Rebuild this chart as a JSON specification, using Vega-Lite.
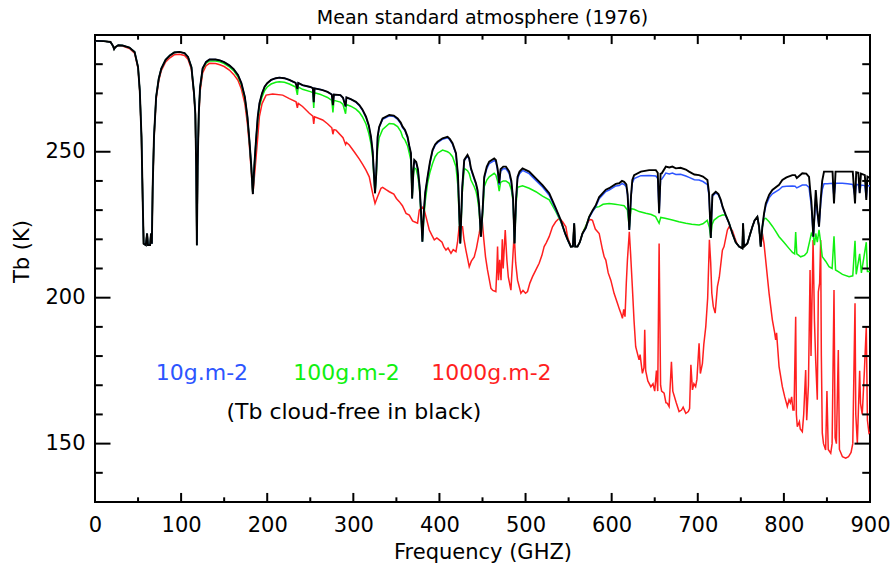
{
"$schema": "https://vega.github.io/schema/vega-lite/v6.json",
"width": 775, "height": 467,
"autosize": {"type": "none"},
"padding": {"left": 95, "top": 35, "right": 22, "bottom": 65},
"background": "white",
"config": {
 "view": {"stroke": "black", "strokeWidth": 2},
 "font": "DejaVu Sans",
 "axis": {"grid": false, "domain": false, "labelFont": "DejaVu Sans", "titleFont": "DejaVu Sans", "labelColor": "black", "titleColor": "black", "titleFontWeight": "normal", "labelFontSize": 21, "titleFontSize": 21, "minExtent": 0}
},
"title": {"text": "Mean standard atmosphere (1976)", "fontSize": 19, "fontWeight": "normal", "font": "DejaVu Sans", "anchor": "middle", "baseline": "bottom", "offset": -13, "color": "black"},
"datasets": {
"xticks": [
{"f":50,"k":"minor"},{"f":100,"k":"major"},{"f":150,"k":"minor"},{"f":200,"k":"major"},{"f":250,"k":"minor"},{"f":300,"k":"major"},{"f":350,"k":"minor"},{"f":400,"k":"major"},{"f":450,"k":"minor"},{"f":500,"k":"major"},{"f":550,"k":"minor"},{"f":600,"k":"major"},{"f":650,"k":"minor"},{"f":700,"k":"major"},{"f":750,"k":"minor"},{"f":800,"k":"major"},{"f":850,"k":"minor"}
],
"yticks": [
{"t":140,"k":"minor"},{"t":150,"k":"major"},{"t":160,"k":"minor"},{"t":170,"k":"minor"},{"t":180,"k":"minor"},{"t":190,"k":"minor"},{"t":200,"k":"major"},{"t":210,"k":"minor"},{"t":220,"k":"minor"},{"t":230,"k":"minor"},{"t":240,"k":"minor"},{"t":250,"k":"major"},{"t":260,"k":"minor"},{"t":270,"k":"minor"},{"t":280,"k":"minor"}
],
"black": [
{"f":0,"t":288},{"f":10,"t":287.9},{"f":18,"t":287.6},{"f":21,"t":286.2},{"f":22.2,"t":285.2},{"f":23.5,"t":285.8},{"f":27,"t":286.5},{"f":32,"t":286.4},{"f":40,"t":285.7},{"f":46,"t":284.2},{"f":50,"t":279},{"f":52,"t":271},{"f":54,"t":255},{"f":55.5,"t":232},{"f":56.5,"t":218.5},{"f":59,"t":218},{"f":60.5,"t":222},{"f":61.5,"t":218},{"f":64,"t":218},{"f":65,"t":222},{"f":66,"t":218.5},{"f":67,"t":238},{"f":68.5,"t":255},{"f":71,"t":268.8},{"f":74,"t":275},{"f":77,"t":278.5},{"f":82,"t":281.5},{"f":87,"t":283},{"f":92,"t":284},{"f":98,"t":284.2},{"f":104,"t":283.8},{"f":108,"t":282.5},{"f":112,"t":279},{"f":115,"t":270},{"f":116.5,"t":263},{"f":117.5,"t":245},{"f":118.3,"t":218},{"f":119.2,"t":245},{"f":120.5,"t":263},{"f":122,"t":272},{"f":125,"t":278.6},{"f":129,"t":280.8},{"f":133,"t":281.6},{"f":140,"t":281.6},{"f":145,"t":281.3},{"f":150,"t":280.7},{"f":156,"t":279.6},{"f":161,"t":278.3},{"f":166,"t":276.3},{"f":170,"t":273.5},{"f":174,"t":268.8},{"f":177,"t":262},{"f":179.3,"t":254},{"f":181.5,"t":245},{"f":183.3,"t":235.5},{"f":185,"t":245},{"f":187,"t":254},{"f":189,"t":262},{"f":191,"t":266.6},{"f":194,"t":270},{"f":197,"t":272.3},{"f":200,"t":273.5},{"f":204.5,"t":274.6},{"f":210,"t":275.2},{"f":214,"t":275.4},{"f":220,"t":275.2},{"f":225.7,"t":274.6},{"f":230,"t":274},{"f":233,"t":273.6},{"f":235,"t":271.5},{"f":236,"t":273.6},{"f":241,"t":272.8},{"f":250,"t":272.2},{"f":253,"t":271.8},{"f":254,"t":267},{"f":255,"t":271.7},{"f":262,"t":271.3},{"f":264.4,"t":271.1},{"f":270,"t":270.5},{"f":275,"t":269.6},{"f":276.3,"t":266},{"f":277.5,"t":269.6},{"f":285,"t":269.4},{"f":288,"t":268.5},{"f":291,"t":265.5},{"f":292,"t":268.6},{"f":297,"t":268},{"f":303,"t":267.1},{"f":307,"t":266},{"f":310.5,"t":264.5},{"f":314.7,"t":262},{"f":318,"t":259},{"f":320.5,"t":255.1},{"f":322.5,"t":250},{"f":324,"t":242},{"f":325.2,"t":235.8},{"f":326.5,"t":242},{"f":328.2,"t":255.1},{"f":330,"t":258.5},{"f":334,"t":261.4},{"f":341.8,"t":262.6},{"f":347,"t":262.4},{"f":351.4,"t":261.4},{"f":355,"t":260},{"f":357.2,"t":258.6},{"f":360,"t":257.5},{"f":363,"t":255.1},{"f":365,"t":252},{"f":366.9,"t":249.5},{"f":368.3,"t":234},{"f":369.8,"t":244},{"f":370.8,"t":247.2},{"f":373,"t":246.5},{"f":375,"t":244},{"f":377,"t":238},{"f":378.5,"t":230},{"f":380.2,"t":219.2},{"f":382,"t":230},{"f":383.5,"t":236},{"f":386.2,"t":241.4},{"f":389,"t":246.5},{"f":392,"t":250.6},{"f":395,"t":252.5},{"f":397.8,"t":253.4},{"f":403.6,"t":254.6},{"f":409.4,"t":255.1},{"f":412,"t":254.4},{"f":415.2,"t":252.9},{"f":419.2,"t":249.5},{"f":421.5,"t":242},{"f":424.2,"t":218.6},{"f":426.5,"t":238},{"f":428.8,"t":247.2},{"f":432.6,"t":248.9},{"f":434.6,"t":247.7},{"f":436.6,"t":244.3},{"f":440.4,"t":240.9},{"f":442.4,"t":239.2},{"f":444.2,"t":236.9},{"f":446,"t":232},{"f":448.2,"t":220.9},{"f":450.5,"t":232},{"f":452,"t":241.4},{"f":455,"t":244.9},{"f":457.8,"t":246.6},{"f":463.6,"t":247.7},{"f":465.5,"t":247.2},{"f":467.5,"t":244.3},{"f":469.4,"t":239.2},{"f":471,"t":244},{"f":474.1,"t":244.9},{"f":477.2,"t":244.9},{"f":481,"t":243.2},{"f":483.5,"t":240},{"f":485.5,"t":234},{"f":487.2,"t":218.6},{"f":489,"t":234},{"f":490.7,"t":241.4},{"f":493,"t":243.2},{"f":496.5,"t":244.3},{"f":504.2,"t":243.2},{"f":512,"t":240.9},{"f":519.7,"t":238.6},{"f":527.5,"t":235.8},{"f":535.2,"t":230.6},{"f":541,"t":226.5},{"f":546,"t":222},{"f":549,"t":219.8},{"f":552.6,"t":217.5},{"f":555,"t":217.6},{"f":556.5,"t":225.5},{"f":557.6,"t":217.5},{"f":560.3,"t":217.5},{"f":563,"t":219},{"f":566.1,"t":222},{"f":570,"t":224},{"f":573.9,"t":227.7},{"f":578,"t":230},{"f":581.6,"t":231.7},{"f":585.5,"t":234.5},{"f":593.2,"t":237},{"f":597.1,"t":237.5},{"f":604.8,"t":239},{"f":608.7,"t":239.2},{"f":612,"t":240},{"f":614.5,"t":239.7},{"f":617,"t":238.8},{"f":618.5,"t":235.5},{"f":620.5,"t":223.2},{"f":622.5,"t":235},{"f":624,"t":240.3},{"f":626.1,"t":242},{"f":633.9,"t":243.2},{"f":643.5,"t":243.7},{"f":651.3,"t":243.7},{"f":653.5,"t":242.8},{"f":655.1,"t":228.9},{"f":656.8,"t":242.5},{"f":658.2,"t":242.6},{"f":662.9,"t":244.9},{"f":667,"t":244.6},{"f":670.5,"t":244.9},{"f":674.5,"t":244.3},{"f":680,"t":244.5},{"f":686.1,"t":243.9},{"f":689.9,"t":243.2},{"f":696,"t":242.2},{"f":701.5,"t":242},{"f":706,"t":241.5},{"f":711.2,"t":240.3},{"f":713,"t":236},{"f":714.3,"t":227},{"f":715.1,"t":220.5},{"f":716,"t":228},{"f":717,"t":235.2},{"f":720.9,"t":236.3},{"f":724,"t":235.5},{"f":726.7,"t":233.5},{"f":729,"t":231},{"f":732.5,"t":228.3},{"f":736.4,"t":225.5},{"f":740.2,"t":222},{"f":744,"t":219},{"f":748,"t":217.5},{"f":751.8,"t":216.9},{"f":752.6,"t":225.5},{"f":753.7,"t":217.5},{"f":757.6,"t":218.6},{"f":760.5,"t":221.5},{"f":763.4,"t":224.3},{"f":766,"t":226.5},{"f":769.2,"t":227.7},{"f":771.2,"t":224.3},{"f":773.1,"t":217.5},{"f":775,"t":224.3},{"f":777,"t":229},{"f":779,"t":232.3},{"f":782.8,"t":235.2},{"f":786.6,"t":236.9},{"f":794.4,"t":238.7},{"f":798.2,"t":240.3},{"f":803,"t":241.2},{"f":809.8,"t":242},{"f":813,"t":242},{"f":815,"t":241},{"f":821.4,"t":242.6},{"f":826,"t":242.5},{"f":829.2,"t":241.4},{"f":830.5,"t":237},{"f":831.9,"t":233},{"f":834.2,"t":220.9},{"f":835.5,"t":228},{"f":837,"t":236.9},{"f":838.8,"t":230},{"f":840.8,"t":224.3},{"f":842.7,"t":233.5},{"f":844.5,"t":240},{"f":846.6,"t":243.2},{"f":850.4,"t":243.2},{"f":856.5,"t":243.2},{"f":858.2,"t":232.3},{"f":860,"t":243.2},{"f":867.8,"t":243.2},{"f":874,"t":243.2},{"f":880,"t":243.2},{"f":882.6,"t":232.3},{"f":884,"t":243},{"f":886.5,"t":242.8},{"f":888,"t":235.8},{"f":889.5,"t":242.5},{"f":894,"t":242},{"f":895.7,"t":233.5},{"f":897,"t":241.5},{"f":900,"t":241}
],
"blue": [
{"f":0,"t":288},{"f":10,"t":287.9},{"f":18,"t":287.6},{"f":21,"t":286.2},{"f":22.2,"t":285.2},{"f":23.5,"t":285.8},{"f":27,"t":286.5},{"f":32,"t":286.4},{"f":40,"t":285.7},{"f":46,"t":284.2},{"f":50,"t":279},{"f":52,"t":271},{"f":54,"t":255},{"f":55.5,"t":232},{"f":56.5,"t":218.5},{"f":59,"t":218},{"f":60.5,"t":222},{"f":61.5,"t":218},{"f":64,"t":218},{"f":65,"t":222},{"f":66,"t":218.5},{"f":67,"t":238},{"f":68.5,"t":255},{"f":71,"t":268.8},{"f":74,"t":275},{"f":77,"t":278.5},{"f":82,"t":281.5},{"f":87,"t":283},{"f":92,"t":284},{"f":98,"t":284.2},{"f":104,"t":283.8},{"f":108,"t":282.5},{"f":112,"t":279},{"f":115,"t":270},{"f":116.5,"t":263},{"f":117.5,"t":245},{"f":118.3,"t":218},{"f":119.2,"t":245},{"f":120.5,"t":263},{"f":122,"t":272},{"f":125,"t":278.6},{"f":129,"t":280.8},{"f":133,"t":281.6},{"f":140,"t":281.6},{"f":145,"t":281.3},{"f":150,"t":280.7},{"f":156,"t":279.6},{"f":161,"t":278.3},{"f":166,"t":276.3},{"f":170,"t":273.5},{"f":174,"t":268.8},{"f":177,"t":262},{"f":179.3,"t":254},{"f":181.5,"t":245},{"f":183.3,"t":235.5},{"f":185,"t":245},{"f":187,"t":254},{"f":189,"t":262},{"f":191,"t":266.6},{"f":194,"t":270},{"f":197,"t":272.3},{"f":200,"t":273.5},{"f":204.5,"t":274.6},{"f":210,"t":275.2},{"f":214,"t":275.4},{"f":220,"t":275.2},{"f":225.7,"t":274.6},{"f":230,"t":274},{"f":233,"t":273.6},{"f":235,"t":271.5},{"f":236,"t":273.6},{"f":241,"t":272.8},{"f":250,"t":272.2},{"f":253,"t":271.8},{"f":254,"t":267},{"f":255,"t":271.7},{"f":262,"t":271.3},{"f":264.4,"t":271.1},{"f":270,"t":270.5},{"f":275,"t":269.6},{"f":276.3,"t":266},{"f":277.5,"t":269.6},{"f":285,"t":269.4},{"f":288,"t":268.5},{"f":291,"t":265.5},{"f":292,"t":268.6},{"f":297,"t":268},{"f":303,"t":267},{"f":307,"t":265.8},{"f":310.5,"t":264.3},{"f":314.7,"t":261.8},{"f":318,"t":258.8},{"f":320.5,"t":254.9},{"f":322.5,"t":249.8},{"f":324,"t":241.9},{"f":325.2,"t":235.8},{"f":326.5,"t":241.9},{"f":328.2,"t":254.9},{"f":330,"t":258.3},{"f":334,"t":261.1},{"f":341.8,"t":262.3},{"f":347,"t":262.1},{"f":351.4,"t":261.1},{"f":355,"t":259.7},{"f":357.2,"t":258.3},{"f":360,"t":257.2},{"f":363,"t":254.8},{"f":365,"t":251.7},{"f":366.9,"t":249.2},{"f":368.3,"t":234},{"f":369.8,"t":243.8},{"f":370.8,"t":246.9},{"f":373,"t":246.2},{"f":375,"t":243.7},{"f":377,"t":237.8},{"f":378.5,"t":229.9},{"f":380.2,"t":219.2},{"f":382,"t":229.9},{"f":383.5,"t":235.8},{"f":386.2,"t":241.1},{"f":389,"t":246.2},{"f":392,"t":250.3},{"f":395,"t":252.2},{"f":397.8,"t":253.1},{"f":403.6,"t":254.3},{"f":409.4,"t":254.8},{"f":412,"t":254.1},{"f":415.2,"t":252.6},{"f":419.2,"t":249.2},{"f":421.5,"t":241.8},{"f":424.2,"t":218.6},{"f":426.5,"t":237.8},{"f":428.8,"t":246.9},{"f":432.6,"t":248.6},{"f":434.6,"t":247.4},{"f":436.6,"t":244},{"f":440.4,"t":240.6},{"f":442.4,"t":238.9},{"f":444.2,"t":236.6},{"f":446,"t":231.8},{"f":448.2,"t":220.9},{"f":450.5,"t":231.6},{"f":452,"t":240.8},{"f":455,"t":244.2},{"f":457.8,"t":245.9},{"f":463.6,"t":247},{"f":465.5,"t":246.5},{"f":467.5,"t":243.6},{"f":469.4,"t":238.6},{"f":471,"t":243.3},{"f":474.1,"t":244.2},{"f":477.2,"t":244.2},{"f":481,"t":242.5},{"f":483.5,"t":239.3},{"f":485.5,"t":233.5},{"f":487.2,"t":218.6},{"f":489,"t":233.5},{"f":490.7,"t":240.7},{"f":493,"t":242.5},{"f":496.5,"t":243.6},{"f":504.2,"t":242.5},{"f":512,"t":240.2},{"f":519.7,"t":237.9},{"f":527.5,"t":235.1},{"f":535.2,"t":230.1},{"f":541,"t":226.2},{"f":546,"t":221.8},{"f":549,"t":219.7},{"f":552.6,"t":217.5},{"f":555,"t":217.6},{"f":556.5,"t":225.5},{"f":557.6,"t":217.5},{"f":560.3,"t":217.5},{"f":563,"t":219},{"f":566.1,"t":221.9},{"f":570,"t":223.8},{"f":573.9,"t":227.4},{"f":578,"t":229.6},{"f":581.6,"t":231.2},{"f":585.5,"t":233.9},{"f":593.2,"t":236.4},{"f":597.1,"t":236.9},{"f":604.8,"t":238.3},{"f":608.7,"t":238.4},{"f":612,"t":239.1},{"f":614.5,"t":238.8},{"f":617,"t":238},{"f":618.5,"t":235},{"f":620.5,"t":223.2},{"f":622.5,"t":234.5},{"f":624,"t":239.3},{"f":626.1,"t":240.8},{"f":633.9,"t":241.8},{"f":643.5,"t":241.9},{"f":651.3,"t":241.7},{"f":653.5,"t":240.8},{"f":655.1,"t":228.9},{"f":656.8,"t":240.5},{"f":658.2,"t":240.6},{"f":662.9,"t":242.7},{"f":667,"t":242.4},{"f":670.5,"t":242.7},{"f":674.5,"t":242.2},{"f":680,"t":242.3},{"f":686.1,"t":241.7},{"f":689.9,"t":241.2},{"f":696,"t":240.4},{"f":701.5,"t":240.3},{"f":706,"t":239.8},{"f":711.2,"t":238.7},{"f":713,"t":235},{"f":714.3,"t":226.7},{"f":715.1,"t":220.5},{"f":716,"t":227.7},{"f":717,"t":234.8},{"f":720.9,"t":235.9},{"f":724,"t":235.2},{"f":726.7,"t":233.2},{"f":729,"t":230.8},{"f":732.5,"t":228.1},{"f":736.4,"t":225.4},{"f":740.2,"t":222},{"f":744,"t":219},{"f":748,"t":217.5},{"f":751.8,"t":216.9},{"f":752.6,"t":225.5},{"f":753.7,"t":217.5},{"f":757.6,"t":218.6},{"f":760.5,"t":221.5},{"f":763.4,"t":224.3},{"f":766,"t":226.5},{"f":769.2,"t":227.7},{"f":771.2,"t":224.3},{"f":773.1,"t":217.5},{"f":775,"t":224.3},{"f":777,"t":228.5},{"f":779,"t":231.5},{"f":782.8,"t":234.2},{"f":786.6,"t":235.6},{"f":794.4,"t":237},{"f":798.2,"t":238},{"f":803,"t":238.2},{"f":809.8,"t":238.3},{"f":813,"t":238.2},{"f":815,"t":237.6},{"f":821.4,"t":238.6},{"f":826,"t":238.6},{"f":829.2,"t":237.8},{"f":830.5,"t":234.5},{"f":831.9,"t":231.5},{"f":834.2,"t":220.9},{"f":835.5,"t":227},{"f":837,"t":234.5},{"f":838.8,"t":229},{"f":840.8,"t":224.3},{"f":842.7,"t":232},{"f":844.5,"t":237},{"f":846.6,"t":239},{"f":850.4,"t":239},{"f":856.5,"t":239.2},{"f":858.2,"t":234.5},{"f":860,"t":239.2},{"f":867.8,"t":239.2},{"f":874,"t":239},{"f":880,"t":238.8},{"f":882.6,"t":234.5},{"f":884,"t":238.8},{"f":886.5,"t":238.7},{"f":888,"t":236},{"f":889.5,"t":238.6},{"f":894,"t":238.4},{"f":895.7,"t":234.3},{"f":897,"t":238.4},{"f":900,"t":238.3}
],
"green": [
{"f":0,"t":288},{"f":10,"t":287.9},{"f":18,"t":287.6},{"f":21,"t":286.2},{"f":22.2,"t":285.2},{"f":23.5,"t":285.8},{"f":27,"t":286.5},{"f":32,"t":286.4},{"f":40,"t":285.7},{"f":46,"t":284.2},{"f":50,"t":279},{"f":52,"t":271},{"f":54,"t":255},{"f":55.5,"t":232},{"f":56.5,"t":218.5},{"f":59,"t":218},{"f":60.5,"t":222},{"f":61.5,"t":218},{"f":64,"t":218},{"f":65,"t":222},{"f":66,"t":218.5},{"f":67,"t":238},{"f":68.5,"t":255},{"f":71,"t":268.8},{"f":74,"t":275},{"f":77,"t":278.5},{"f":82,"t":281.5},{"f":87,"t":283},{"f":92,"t":284},{"f":98,"t":284.2},{"f":104,"t":283.8},{"f":108,"t":282.5},{"f":112,"t":279},{"f":115,"t":270},{"f":116.5,"t":263},{"f":117.5,"t":245},{"f":118.3,"t":218},{"f":119.2,"t":245},{"f":120.5,"t":263},{"f":122,"t":271.8},{"f":125,"t":278.3},{"f":129,"t":280.4},{"f":133,"t":281.1},{"f":140,"t":281.1},{"f":145,"t":280.8},{"f":150,"t":280.2},{"f":156,"t":279.1},{"f":161,"t":277.8},{"f":166,"t":275.7},{"f":170,"t":273},{"f":174,"t":268.3},{"f":177,"t":261.6},{"f":179.3,"t":253.7},{"f":181.5,"t":244.8},{"f":183.3,"t":235.5},{"f":185,"t":245},{"f":187,"t":253.5},{"f":189,"t":261},{"f":191,"t":265.5},{"f":194,"t":268.8},{"f":197,"t":271},{"f":200,"t":272.2},{"f":204.5,"t":273.2},{"f":210,"t":273.8},{"f":214,"t":274},{"f":220,"t":273.8},{"f":225.7,"t":273.2},{"f":230,"t":272.6},{"f":233,"t":272.2},{"f":235,"t":269.5},{"f":236,"t":272.2},{"f":241,"t":271.4},{"f":250,"t":270.6},{"f":253,"t":270.3},{"f":254,"t":265},{"f":255,"t":270.2},{"f":262,"t":269.6},{"f":264.4,"t":269.3},{"f":270,"t":268.6},{"f":275,"t":267.6},{"f":276.3,"t":263.5},{"f":277.5,"t":267.6},{"f":285,"t":267},{"f":288,"t":266.2},{"f":291,"t":263},{"f":292,"t":266.2},{"f":297,"t":265.6},{"f":303,"t":264.6},{"f":307,"t":263.5},{"f":310.5,"t":262},{"f":314.7,"t":259.5},{"f":318,"t":256.2},{"f":320.5,"t":252.8},{"f":322.5,"t":248},{"f":324,"t":241},{"f":325.2,"t":235.8},{"f":326.5,"t":241},{"f":328.2,"t":251},{"f":330,"t":254.8},{"f":334,"t":257.6},{"f":341.8,"t":259.7},{"f":347,"t":259.5},{"f":351.4,"t":258.6},{"f":355,"t":257},{"f":357.2,"t":255.1},{"f":360,"t":254},{"f":363,"t":252},{"f":365,"t":249.5},{"f":366.9,"t":247},{"f":368.3,"t":234},{"f":369.8,"t":242},{"f":370.8,"t":244.5},{"f":373,"t":244},{"f":375,"t":241.5},{"f":377,"t":236.5},{"f":378.5,"t":229},{"f":380.2,"t":219.2},{"f":382,"t":228},{"f":383.5,"t":233},{"f":386.2,"t":239.2},{"f":389,"t":243},{"f":392,"t":246},{"f":395,"t":248.3},{"f":397.8,"t":249.5},{"f":403.6,"t":250.6},{"f":409.4,"t":250},{"f":412,"t":249.5},{"f":415.2,"t":248.3},{"f":419.2,"t":244.9},{"f":421.5,"t":238},{"f":424.2,"t":218.6},{"f":426.5,"t":236},{"f":428.8,"t":244.3},{"f":432.6,"t":243.5},{"f":434.6,"t":242.5},{"f":436.6,"t":240.3},{"f":440.4,"t":238},{"f":442.4,"t":236.5},{"f":444.2,"t":234},{"f":446,"t":230},{"f":448.2,"t":220.9},{"f":450.5,"t":230},{"f":452,"t":238},{"f":455,"t":240.3},{"f":457.8,"t":241.4},{"f":463.6,"t":242.6},{"f":465.5,"t":242},{"f":467.5,"t":240},{"f":469.4,"t":236.5},{"f":471,"t":239.5},{"f":474.1,"t":240},{"f":477.2,"t":240},{"f":481,"t":239.2},{"f":483.5,"t":237},{"f":485.5,"t":233},{"f":487.2,"t":218.6},{"f":489,"t":232},{"f":490.7,"t":237.8},{"f":496.5,"t":238.3},{"f":504.2,"t":237.5},{"f":512,"t":236.3},{"f":519.7,"t":234.8},{"f":527.5,"t":233.5},{"f":535.2,"t":229.5},{"f":541,"t":226},{"f":546,"t":222},{"f":549,"t":219.8},{"f":552.6,"t":217.5},{"f":555,"t":217.6},{"f":556.5,"t":225.5},{"f":557.6,"t":217.5},{"f":560.3,"t":217.5},{"f":563,"t":219},{"f":566.1,"t":222},{"f":570,"t":224.5},{"f":573.9,"t":227.7},{"f":578,"t":229.8},{"f":581.6,"t":231},{"f":585.5,"t":231.2},{"f":590,"t":232},{"f":597.1,"t":232.3},{"f":604,"t":232},{"f":608.7,"t":231.8},{"f":614.5,"t":231.5},{"f":618.3,"t":230},{"f":620.5,"t":224},{"f":622.5,"t":230.5},{"f":626,"t":230.3},{"f":632,"t":229.5},{"f":639.6,"t":228.9},{"f":646,"t":228.5},{"f":651,"t":227.8},{"f":655.1,"t":225.5},{"f":657,"t":227.5},{"f":662,"t":227.2},{"f":670.5,"t":226.6},{"f":678,"t":226},{"f":686.1,"t":225.5},{"f":693,"t":225.2},{"f":701.5,"t":224.9},{"f":706,"t":225.3},{"f":711,"t":226.5},{"f":713.5,"t":224},{"f":715.1,"t":220.5},{"f":716.5,"t":225},{"f":718.9,"t":226.6},{"f":724,"t":227.8},{"f":728.6,"t":228.3},{"f":732.5,"t":228.3},{"f":736.4,"t":225.5},{"f":740.2,"t":222},{"f":744,"t":219},{"f":748,"t":217.5},{"f":751.8,"t":216.9},{"f":752.6,"t":225.5},{"f":753.7,"t":217.5},{"f":757.6,"t":218.6},{"f":760.5,"t":221.5},{"f":763.4,"t":224.3},{"f":766,"t":226.5},{"f":769.2,"t":227.7},{"f":771.2,"t":224.3},{"f":773.1,"t":217.5},{"f":775,"t":224.3},{"f":777,"t":227},{"f":779,"t":227.2},{"f":782.8,"t":226},{"f":786.6,"t":224.5},{"f":790,"t":223},{"f":794.4,"t":220.9},{"f":800,"t":219},{"f":805.9,"t":216.9},{"f":810,"t":215.5},{"f":812.5,"t":215},{"f":813.7,"t":222.5},{"f":815,"t":215},{"f":819.5,"t":214},{"f":824,"t":214.5},{"f":827,"t":215.5},{"f":830.4,"t":220},{"f":831.9,"t":222},{"f":834.2,"t":220.9},{"f":835.5,"t":218},{"f":837,"t":222},{"f":838.8,"t":219},{"f":840.8,"t":223.2},{"f":842.7,"t":219},{"f":844.6,"t":214},{"f":848.5,"t":212.5},{"f":852.4,"t":210.6},{"f":856,"t":210},{"f":858.2,"t":221},{"f":860,"t":209.5},{"f":863.2,"t":208.9},{"f":868,"t":208},{"f":875.7,"t":207.2},{"f":880,"t":207.5},{"f":882.6,"t":219.5},{"f":884,"t":208},{"f":888,"t":215},{"f":890,"t":208.5},{"f":895.7,"t":219},{"f":897,"t":209},{"f":900,"t":209}
],
"red": [
{"f":0,"t":288},{"f":10,"t":287.9},{"f":18,"t":287.6},{"f":21,"t":286.2},{"f":22.2,"t":285.2},{"f":23.5,"t":285.8},{"f":27,"t":286.4},{"f":32,"t":286.2},{"f":40,"t":285.4},{"f":46,"t":283.8},{"f":50,"t":278.5},{"f":52,"t":270.5},{"f":54,"t":254.5},{"f":55.5,"t":232},{"f":56.5,"t":218.5},{"f":59,"t":218},{"f":60.5,"t":222},{"f":61.5,"t":218},{"f":64,"t":218},{"f":65,"t":222},{"f":66,"t":218.5},{"f":67,"t":237.5},{"f":68.5,"t":254.5},{"f":71,"t":268},{"f":74,"t":274.3},{"f":77,"t":277.8},{"f":82,"t":280.8},{"f":87,"t":282.2},{"f":92,"t":283.2},{"f":98,"t":283.4},{"f":104,"t":283},{"f":108,"t":281.7},{"f":112,"t":278.3},{"f":115,"t":269.5},{"f":116.5,"t":262.5},{"f":117.5,"t":245},{"f":118.3,"t":218},{"f":119.2,"t":245},{"f":120.5,"t":262},{"f":122,"t":270.5},{"f":125,"t":277},{"f":129,"t":279.5},{"f":133,"t":280.3},{"f":140,"t":280.2},{"f":145,"t":279.8},{"f":150,"t":279.2},{"f":156,"t":278},{"f":161,"t":276.5},{"f":166,"t":274.5},{"f":170,"t":271.5},{"f":174,"t":266.5},{"f":177,"t":259.5},{"f":179.3,"t":252},{"f":181.5,"t":243},{"f":183.3,"t":235.5},{"f":185,"t":241},{"f":187,"t":248},{"f":189,"t":255},{"f":190.9,"t":262},{"f":194,"t":266.5},{"f":198.7,"t":269.4},{"f":206.3,"t":269.8},{"f":218,"t":269.4},{"f":225.7,"t":268.2},{"f":233.5,"t":267.1},{"f":235,"t":265},{"f":236,"t":266.6},{"f":241,"t":265.5},{"f":248.9,"t":263.2},{"f":253,"t":262.2},{"f":254,"t":259.5},{"f":255,"t":262},{"f":264.4,"t":260.9},{"f":270,"t":259.6},{"f":275,"t":258.2},{"f":276.3,"t":256},{"f":277.5,"t":257.6},{"f":279.9,"t":257.4},{"f":288,"t":254.8},{"f":291,"t":252.5},{"f":292,"t":253.2},{"f":295.3,"t":252.3},{"f":301,"t":250},{"f":307,"t":247.5},{"f":311,"t":245.6},{"f":314.7,"t":243.7},{"f":318.5,"t":241.4},{"f":320.5,"t":238.5},{"f":323,"t":235},{"f":325.2,"t":232.3},{"f":328,"t":234.5},{"f":332.1,"t":237.5},{"f":334,"t":237.8},{"f":338,"t":237},{"f":341.8,"t":236.3},{"f":347,"t":235.5},{"f":350,"t":234},{"f":353.4,"t":232.9},{"f":357,"t":231.5},{"f":361.2,"t":228.9},{"f":365,"t":228.3},{"f":368.8,"t":226.3},{"f":370.8,"t":226},{"f":374.6,"t":225.5},{"f":376.6,"t":230},{"f":380,"t":231},{"f":382.4,"t":230},{"f":385,"t":227},{"f":388.2,"t":223.2},{"f":391,"t":221.5},{"f":394,"t":219.8},{"f":397,"t":220.5},{"f":399.8,"t":219.8},{"f":403,"t":219},{"f":405,"t":217.5},{"f":407.6,"t":216.3},{"f":410,"t":217},{"f":413.4,"t":215.2},{"f":416,"t":216.5},{"f":419.2,"t":215.8},{"f":421,"t":219},{"f":422.9,"t":224.3},{"f":426.8,"t":224.3},{"f":428.5,"t":220},{"f":430.7,"t":216.3},{"f":434.6,"t":210.6},{"f":437,"t":212.5},{"f":440.4,"t":214},{"f":443,"t":217},{"f":446.2,"t":222},{"f":449.3,"t":227.7},{"f":451.5,"t":220},{"f":453.5,"t":214},{"f":455.8,"t":209.5},{"f":459.8,"t":203.2},{"f":462,"t":202.5},{"f":465.5,"t":202.1},{"f":466.7,"t":210},{"f":467.5,"t":217.5},{"f":468.5,"t":206},{"f":470,"t":213},{"f":471.5,"t":206},{"f":473,"t":220},{"f":474,"t":210},{"f":476.4,"t":223.2},{"f":478.3,"t":213},{"f":480,"t":207},{"f":483,"t":202.6},{"f":486.8,"t":222},{"f":488.5,"t":212},{"f":490.7,"t":206},{"f":494.6,"t":201.5},{"f":497,"t":202.5},{"f":500,"t":201.5},{"f":502.3,"t":202.1},{"f":505,"t":205},{"f":508.1,"t":207.2},{"f":512,"t":209.5},{"f":515.8,"t":211.8},{"f":519,"t":214.5},{"f":521.6,"t":217.5},{"f":524,"t":218.8},{"f":527.4,"t":220.9},{"f":531.3,"t":224.3},{"f":535,"t":226},{"f":539.1,"t":227.2},{"f":543,"t":226},{"f":546.8,"t":224.3},{"f":549,"t":220.5},{"f":552.6,"t":217.5},{"f":555,"t":217.6},{"f":556.5,"t":225.5},{"f":557.6,"t":217.5},{"f":560.3,"t":217.5},{"f":563,"t":219},{"f":566.1,"t":222},{"f":570,"t":224.5},{"f":573.9,"t":226.6},{"f":575.8,"t":226.8},{"f":577.7,"t":226.5},{"f":581,"t":223.5},{"f":585.5,"t":222},{"f":589.3,"t":216.5},{"f":591.3,"t":214},{"f":593.2,"t":212.9},{"f":596,"t":208.5},{"f":599,"t":206},{"f":602.8,"t":201.5},{"f":606.7,"t":198.1},{"f":609,"t":196},{"f":610.7,"t":194.7},{"f":612.5,"t":192.9},{"f":614,"t":196},{"f":615.5,"t":193.5},{"f":617,"t":205},{"f":618.3,"t":212.9},{"f":620.5,"t":222.6},{"f":622,"t":215},{"f":624,"t":203.8},{"f":626,"t":192},{"f":627.9,"t":183.2},{"f":631.8,"t":178.7},{"f":633,"t":180.5},{"f":635.7,"t":174.1},{"f":637.5,"t":176},{"f":638.4,"t":189},{"f":639.5,"t":175},{"f":642,"t":171.5},{"f":645.5,"t":169.5},{"f":648,"t":170.5},{"f":650,"t":168},{"f":652,"t":175},{"f":653.5,"t":168},{"f":655.1,"t":218.6},{"f":656.8,"t":170},{"f":658,"t":168},{"f":660.9,"t":167.3},{"f":663,"t":164},{"f":664.7,"t":163.8},{"f":666.7,"t":162.7},{"f":668,"t":170},{"f":669.4,"t":178},{"f":671,"t":168},{"f":675,"t":164},{"f":678.3,"t":161},{"f":681.1,"t":161.5},{"f":683,"t":162.5},{"f":686.1,"t":160.4},{"f":689,"t":161},{"f":690.5,"t":162},{"f":692,"t":177},{"f":693.8,"t":168.4},{"f":695.5,"t":170.5},{"f":697.5,"t":169.5},{"f":699,"t":172},{"f":701.5,"t":184.4},{"f":703,"t":174},{"f":705.4,"t":177.5},{"f":707,"t":184},{"f":709.3,"t":190.1},{"f":711.5,"t":200},{"f":713.5,"t":219.8},{"f":715,"t":212},{"f":716.3,"t":201.5},{"f":718,"t":197},{"f":720.2,"t":194.7},{"f":722.8,"t":203.8},{"f":725,"t":207},{"f":728.6,"t":216.3},{"f":730.5,"t":217.5},{"f":734.4,"t":223.2},{"f":736.4,"t":224.3},{"f":740.2,"t":223},{"f":743,"t":220.5},{"f":745.5,"t":218.5},{"f":748,"t":217.5},{"f":751.8,"t":216.9},{"f":752.6,"t":225.5},{"f":753.7,"t":217.5},{"f":757.6,"t":218.6},{"f":760.5,"t":221.5},{"f":763.4,"t":224.3},{"f":766,"t":226.5},{"f":769.2,"t":227.7},{"f":771.2,"t":224.3},{"f":773.1,"t":217.5},{"f":775,"t":222},{"f":776.9,"t":218.6},{"f":780.8,"t":207.2},{"f":782.8,"t":201.5},{"f":786.6,"t":192.4},{"f":789,"t":188.5},{"f":790.5,"t":185.5},{"f":791.5,"t":188},{"f":794.4,"t":176.4},{"f":798.2,"t":169.5},{"f":801,"t":166},{"f":804,"t":162.7},{"f":806,"t":165},{"f":807.5,"t":164},{"f":809,"t":166},{"f":810.5,"t":161.5},{"f":811.8,"t":161.5},{"f":813.7,"t":193.5},{"f":814.5,"t":160},{"f":815.6,"t":155.8},{"f":818,"t":157.5},{"f":819,"t":155},{"f":821.4,"t":154.1},{"f":823,"t":160},{"f":825.3,"t":175.2},{"f":826.5,"t":158},{"f":828.5,"t":170},{"f":830.4,"t":209.5},{"f":831.5,"t":180},{"f":833.9,"t":219.8},{"f":835.5,"t":192},{"f":837,"t":178},{"f":838.8,"t":165},{"f":840,"t":202},{"f":841.5,"t":205},{"f":842.7,"t":219.8},{"f":843.5,"t":180},{"f":844.6,"t":153.6},{"f":846,"t":150},{"f":848.5,"t":147.8},{"f":850,"t":168},{"f":851.5,"t":148},{"f":854.4,"t":146.7},{"f":856,"t":150},{"f":858.2,"t":202.6},{"f":859.5,"t":152},{"f":861,"t":150},{"f":863.2,"t":182.1},{"f":864.5,"t":148},{"f":868,"t":145.5},{"f":871.8,"t":145},{"f":875,"t":145.5},{"f":878,"t":147},{"f":880,"t":150},{"f":882.6,"t":198.1},{"f":883.5,"t":160},{"f":885.3,"t":150.1},{"f":888,"t":175},{"f":889,"t":163.8},{"f":891,"t":160},{"f":893.5,"t":175},{"f":895.7,"t":190.1},{"f":897,"t":158},{"f":898.8,"t":153.6},{"f":900,"t":154}
],
"notes": [
{"f":124.2,"t":174.2,"label":"10g.m-2"},
{"f":292.1,"t":174.2,"label":"100g.m-2"},
{"f":460.4,"t":174.2,"label":"1000g.m-2"},
{"f":300.6,"t":161,"label":"(Tb cloud-free in black)"}
]
},
"layer": [
{
 "data": {"name": "red"},
 "mark": {"type": "line", "color": "#ff1f1f", "strokeWidth": 1.5, "clip": true},
 "encoding": {
  "x": {"field": "f", "type": "quantitative", "scale": {"domain": [0, 900], "nice": false, "zero": false},
   "axis": {"orient": "bottom", "values": [0,100,200,300,400,500,600,700,800,900], "ticks": false, "labelPadding": 12, "labelFlush": false, "labelOverlap": false, "title": "Frequency (GHZ)", "titlePadding": 6}},
  "y": {"field": "t", "type": "quantitative", "scale": {"domain": [130, 290], "nice": false, "zero": false},
   "axis": {"orient": "left", "values": [150,200,250], "ticks": false, "labelPadding": 10, "labelFlush": false, "labelOverlap": false, "title": "Tb (K)", "titleX": -73, "titleY": 216, "titleAlign": "center", "titleBaseline": "middle", "titleAngle": 270}}
 }
},
{
 "data": {"name": "green"},
 "mark": {"type": "line", "color": "#10f010", "strokeWidth": 1.5, "clip": true},
 "encoding": {"x": {"field": "f", "type": "quantitative"}, "y": {"field": "t", "type": "quantitative"}}
},
{
 "data": {"name": "blue"},
 "mark": {"type": "line", "color": "#2d55ff", "strokeWidth": 1.5, "clip": true},
 "encoding": {"x": {"field": "f", "type": "quantitative"}, "y": {"field": "t", "type": "quantitative"}}
},
{
 "data": {"name": "black"},
 "mark": {"type": "line", "color": "black", "strokeWidth": 1.9, "clip": true},
 "encoding": {"x": {"field": "f", "type": "quantitative"}, "y": {"field": "t", "type": "quantitative"}}
},
{
 "data": {"name": "xticks"},
 "transform": [{"filter": "datum.k === 'major'"}],
 "mark": {"type": "rule", "color": "black", "strokeWidth": 2},
 "encoding": {"x": {"field": "f", "type": "quantitative"}, "y": {"datum": 130, "type": "quantitative"}, "y2": {"datum": 133.1}}
},
{
 "data": {"name": "xticks"},
 "transform": [{"filter": "datum.k === 'minor'"}],
 "mark": {"type": "rule", "color": "black", "strokeWidth": 2},
 "encoding": {"x": {"field": "f", "type": "quantitative"}, "y": {"datum": 130, "type": "quantitative"}, "y2": {"datum": 131.6}}
},
{
 "data": {"name": "xticks"},
 "transform": [{"filter": "datum.k === 'major'"}],
 "mark": {"type": "rule", "color": "black", "strokeWidth": 2},
 "encoding": {"x": {"field": "f", "type": "quantitative"}, "y": {"datum": 290, "type": "quantitative"}, "y2": {"datum": 286.9}}
},
{
 "data": {"name": "xticks"},
 "transform": [{"filter": "datum.k === 'minor'"}],
 "mark": {"type": "rule", "color": "black", "strokeWidth": 2},
 "encoding": {"x": {"field": "f", "type": "quantitative"}, "y": {"datum": 290, "type": "quantitative"}, "y2": {"datum": 288.4}}
},
{
 "data": {"name": "yticks"},
 "transform": [{"filter": "datum.k === 'major'"}],
 "mark": {"type": "rule", "color": "black", "strokeWidth": 2},
 "encoding": {"y": {"field": "t", "type": "quantitative"}, "x": {"datum": 0, "type": "quantitative"}, "x2": {"datum": 18}}
},
{
 "data": {"name": "yticks"},
 "transform": [{"filter": "datum.k === 'minor'"}],
 "mark": {"type": "rule", "color": "black", "strokeWidth": 2},
 "encoding": {"y": {"field": "t", "type": "quantitative"}, "x": {"datum": 0, "type": "quantitative"}, "x2": {"datum": 9}}
},
{
 "data": {"name": "yticks"},
 "transform": [{"filter": "datum.k === 'major'"}],
 "mark": {"type": "rule", "color": "black", "strokeWidth": 2},
 "encoding": {"y": {"field": "t", "type": "quantitative"}, "x": {"datum": 900, "type": "quantitative"}, "x2": {"datum": 882}}
},
{
 "data": {"name": "yticks"},
 "transform": [{"filter": "datum.k === 'minor'"}],
 "mark": {"type": "rule", "color": "black", "strokeWidth": 2},
 "encoding": {"y": {"field": "t", "type": "quantitative"}, "x": {"datum": 900, "type": "quantitative"}, "x2": {"datum": 891}}
},
{
 "data": {"name": "notes"},
 "mark": {"type": "text", "fontSize": 22, "font": "DejaVu Sans", "align": "center", "baseline": "middle"},
 "encoding": {
  "x": {"field": "f", "type": "quantitative"},
  "y": {"field": "t", "type": "quantitative"},
  "text": {"field": "label", "type": "nominal"},
  "color": {"field": "label", "type": "nominal", "legend": null,
   "scale": {"domain": ["10g.m-2", "100g.m-2", "1000g.m-2", "(Tb cloud-free in black)"], "range": ["#2d55ff", "#10f010", "#ff1f1f", "black"]}}
 }
}
]
}
